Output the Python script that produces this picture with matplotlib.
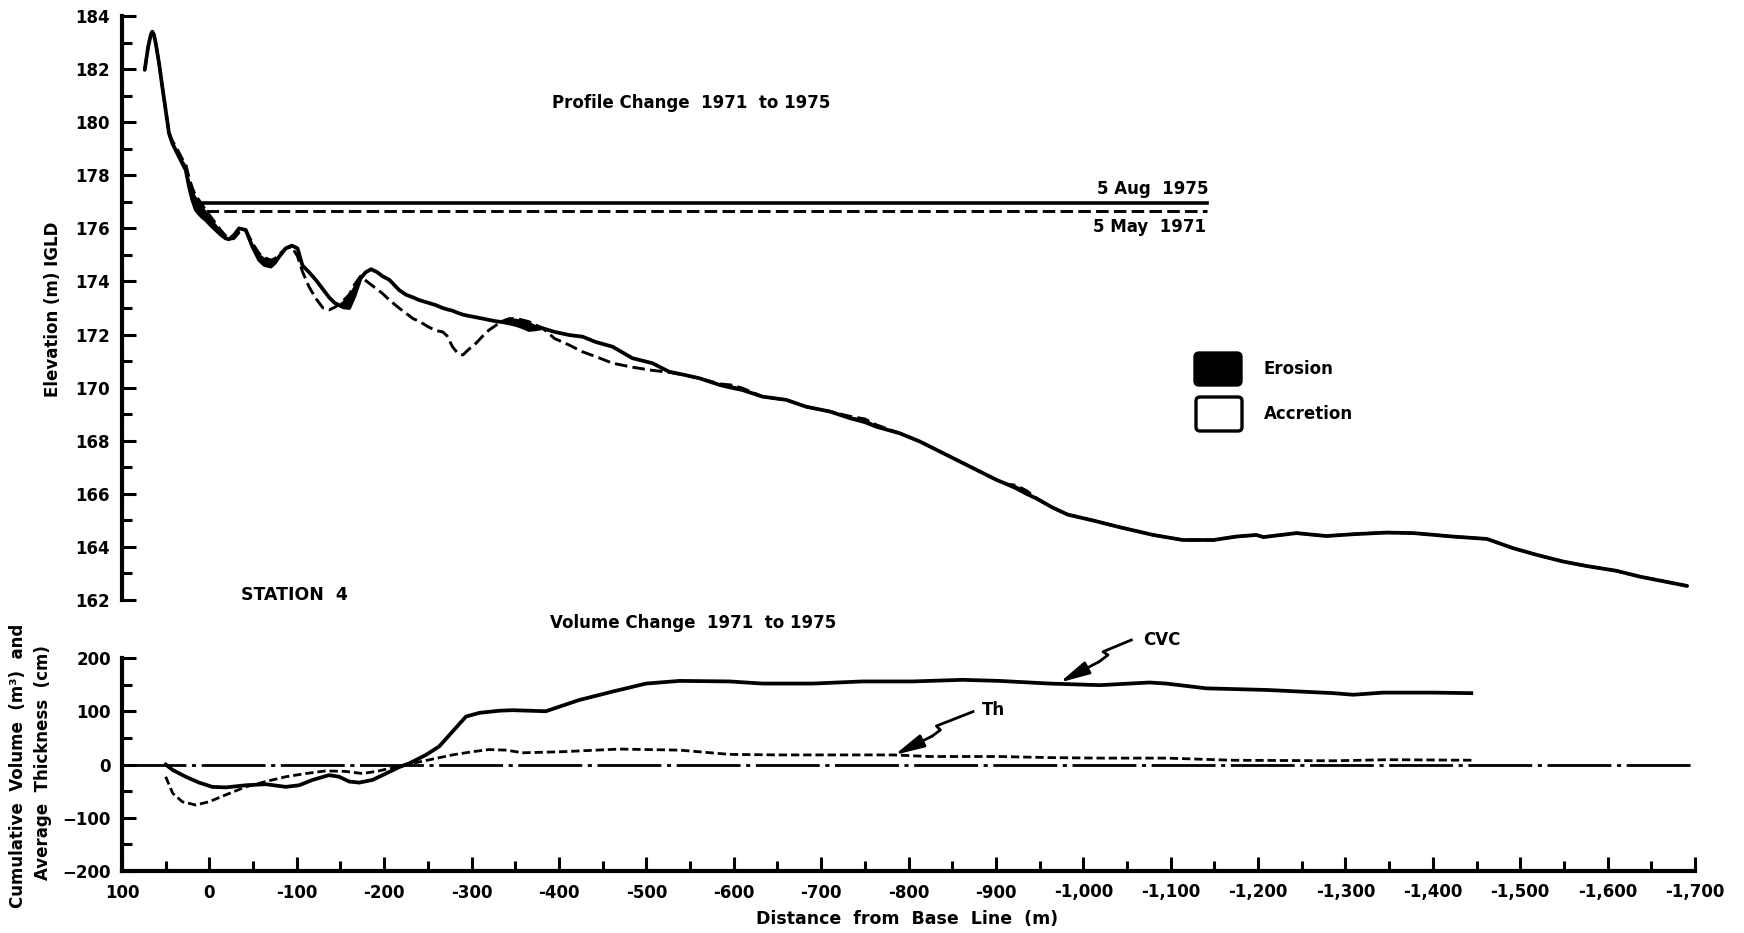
import matplotlib
matplotlib.use("Agg")
import matplotlib.pyplot as plt
from matplotlib.patches import FancyBboxPatch
from matplotlib.ticker import FuncFormatter

W, H = 1744, 933

plt.rcParams['font.family'] = ['DejaVu Sans']
plt.rcParams['font.weight'] = 'bold'

# beach profile, station 4 -- distance from base line (m), elevation (m IGLD)
distance = [74.0, 70.0, 67.0, 65.3, 63.5, 61.4, 57.6, 53.9, 50.0, 46.2,
            42.4, 36.8, 31.1, 27.1, 23.3, 19.5, 15.6, 11.8, 8.0, 4.2,
            -1.5, -7.3, -13.0, -18.7, -22.5, -28.2, -34.0, -41.6, -49.2, -56.9,
            -63.0, -70.3, -75.0, -79.8, -87.5, -94.3, -100.8, -106.5, -114.0, -122.0,
            -130.0, -137.0, -143.0, -148.5, -154.0, -160.0, -166.0, -173.0, -179.0, -185.0,
            -192.0, -198.0, -206.0, -217.0, -225.0, -233.0, -240.0, -250.0, -259.0, -267.0,
            -272.0, -278.0, -284.0, -290.0, -297.0, -305.0, -313.0, -320.0, -328.0, -335.0,
            -343.0, -351.0, -358.0, -366.0, -374.0, -381.0, -395.0, -412.0, -427.0, -442.0,
            -461.5, -484.0, -507.0, -526.0, -545.0, -561.0, -584.0, -597.0, -610.0, -633.0,
            -660.0, -683.0, -710.0, -733.0, -750.0, -763.0, -790.0, -813.0, -836.0, -859.0,
            -878.0, -901.0, -912.0, -923.0, -935.0, -946.0, -965.0, -982.0, -1013.0, -1042.0,
            -1080.0, -1114.0, -1149.0, -1175.0, -1198.0, -1206.0, -1244.0, -1278.0, -1310.0, -1347.0,
            -1378.0, -1423.0, -1462.0, -1492.0, -1519.0, -1549.0, -1576.0, -1610.0, -1637.0, -1665.0,
            -1691.0]

elev_1975 = [181.97, 182.85, 183.30, 183.41, 183.30, 182.97, 182.22, 181.34, 180.46, 179.58,
             179.20, 178.83, 178.45, 178.20, 177.57, 177.07, 176.70, 176.55, 176.42, 176.32,
             176.12, 175.94, 175.76, 175.62, 175.59, 175.75, 176.00, 175.94, 175.31, 174.81,
             174.62, 174.56, 174.70, 174.93, 175.25, 175.35, 175.25, 174.60, 174.35, 174.05,
             173.70, 173.40, 173.20, 173.10, 173.02, 173.00, 173.45, 174.12, 174.35, 174.46,
             174.35, 174.20, 174.06, 173.68, 173.50, 173.40, 173.30, 173.20, 173.11, 173.00,
             172.95, 172.90, 172.82, 172.75, 172.70, 172.65, 172.60, 172.55, 172.50, 172.47,
             172.42, 172.36, 172.28, 172.17, 172.20, 172.24, 172.10, 171.98, 171.92, 171.72,
             171.54, 171.11, 170.92, 170.60, 170.47, 170.35, 170.10, 170.00, 169.91, 169.66,
             169.54, 169.28, 169.10, 168.85, 168.70, 168.53, 168.28, 167.97, 167.59, 167.21,
             166.90, 166.52, 166.37, 166.21, 166.00, 165.83, 165.48, 165.22, 164.98, 164.74,
             164.45, 164.26, 164.26, 164.39, 164.45, 164.37, 164.52, 164.41, 164.48, 164.54,
             164.52, 164.39, 164.30, 163.95, 163.70, 163.45, 163.28, 163.10, 162.88, 162.70,
             162.53]

elev_1971 = [181.97, 182.85, 183.30, 183.41, 183.30, 182.97, 182.22, 181.34, 180.46, 179.62,
             179.30, 178.98, 178.62, 178.42, 177.92, 177.52, 177.22, 177.06, 176.88, 176.68,
             176.44, 176.18, 175.93, 175.72, 175.59, 175.62, 175.85, 175.94, 175.45, 175.05,
             174.90, 174.80, 174.86, 175.02, 175.25, 175.30, 174.95, 174.37, 173.80, 173.35,
             173.00, 172.93, 173.02, 173.14, 173.30, 173.50, 173.88, 174.20, 174.03, 173.88,
             173.70, 173.55, 173.30, 173.00, 172.80, 172.60, 172.50, 172.30, 172.15, 172.10,
             171.95, 171.55, 171.30, 171.23, 171.45, 171.67, 171.95, 172.17, 172.35, 172.50,
             172.60, 172.60, 172.55, 172.48, 172.35, 172.25, 171.85, 171.60, 171.35, 171.17,
             170.92, 170.77, 170.65, 170.58, 170.47, 170.35, 170.14, 170.10, 169.98, 169.66,
             169.54, 169.28, 169.10, 168.92, 168.82, 168.60, 168.28, 167.97, 167.59, 167.21,
             166.90, 166.52, 166.37, 166.32, 166.12, 165.85, 165.48, 165.22, 164.98, 164.74,
             164.45, 164.26, 164.26, 164.39, 164.45, 164.37, 164.52, 164.41, 164.48, 164.54,
             164.52, 164.39, 164.30, 163.95, 163.70, 163.45, 163.28, 163.10, 162.88, 162.70,
             162.53]

# lake levels on the survey dates
level_1975 = 176.95
level_1971 = 176.65
level_1975_span = (11.8, -1142.0)
level_1971_span = (3.8, -1142.0)

# cumulative volume change (m3) and average thickness (cm)
cvc_dist = [50, 42.3, 27.1, 11.8, -3.4, -18.7, -41.6, -64.5, -87.4, -102.7,
            -118, -137, -148.5, -160, -171.4, -186.6, -202, -217, -228.6, -247.8,
            -263, -278.3, -293.6, -309, -331.7, -347, -385, -423, -461.5, -499.7,
            -538, -595, -633, -690.5, -747.7, -805, -862, -904, -961.5, -1019,
            -1076, -1095, -1141, -1210, -1286, -1309, -1343, -1400, -1444]
cvc = [0, -10, -23, -34, -42, -43, -39, -37, -42, -39,
       -29, -20, -23, -32, -34, -29, -17, -5, 2, 18,
       34, 62, 90, 97, 101, 102, 100, 121, 137, 152,
       157, 156, 152, 152, 156, 156, 159, 157, 152, 149,
       154, 152, 143, 140, 134, 131, 135, 135, 134]

th_dist = [50, 42, 31, 15.7, 0.4, -18.7, -41.6, -64.5, -87.4, -110,
           -133, -156, -175, -194, -217, -232, -255, -278, -301, -320,
           -340, -358, -404, -469, -538, -595, -652, -729, -782, -824,
           -904, -960, -1019, -1095, -1171, -1286, -1350, -1445]
th = [-23, -54, -70, -76, -70, -57, -42, -32, -23, -17,
      -12, -13, -17, -12, -3, 2, 10, 18, 24, 28,
      27, 22, 24, 29, 27, 19, 18, 18, 18, 15,
      15, 13, 12, 12, 8, 7, 9, 8]

x_ticks = list(range(100, -1701, -100))

DASH_1971 = (0, (4.3, 1.8))


def fx(px):
    return px / W


def fy(py):
    return 1 - py / H


fig = plt.figure(figsize=(W / 100, H / 100), dpi=100)
fig.patch.set_facecolor('white')

ax_top = fig.add_axes([fx(122), fy(600), fx(1695) - fx(122), fy(16) - fy(600)])
ax_bot = fig.add_axes([fx(122), fy(871), fx(1695) - fx(122), fy(658) - fy(871)])

for ax in (ax_top, ax_bot):
    ax.set_xlim(100, -1700)
    ax.spines['top'].set_visible(False)
    ax.spines['right'].set_visible(False)
    for s in ax.spines.values():
        s.set_linewidth(3.0)
        s.set_capstyle('projecting')
    ax.tick_params(which='both', direction='in', width=2.2, labelsize=12, colors='black')
    ax.tick_params(which='major', length=10)
    ax.tick_params(which='minor', length=7)

# ---- profile panel ----
ax_top.spines['bottom'].set_visible(False)
ax_top.tick_params(axis='x', which='both', bottom=False, labelbottom=False)
ax_top.set_ylim(162, 184)
ax_top.set_yticks(range(162, 185, 2))
ax_top.set_yticks(range(163, 184, 2), minor=True)
ax_top.tick_params(axis='y', pad=9)

ax_top.plot(distance, elev_1971, color='black', lw=2.1, ls=DASH_1971)
ax_top.plot(distance, elev_1975, color='black', lw=2.7, solid_capstyle='round',
            solid_joinstyle='round')
ax_top.fill_between(distance, elev_1975, elev_1971,
                    where=[a > b for a, b in zip(elev_1971, elev_1975)],
                    interpolate=True, color='black', lw=0)

ax_top.plot(level_1975_span, [level_1975, level_1975], color='black', lw=2.6)
ax_top.plot(level_1971_span, [level_1971, level_1971], color='black', lw=2.1, ls=DASH_1971)
ax_top.text(-1143, 177.48, '5 Aug  1975', ha='right', va='center', fontsize=12)
ax_top.text(-1141, 176.05, '5 May  1971', ha='right', va='center', fontsize=12)

# ---- volume panel ----
ax_bot.set_ylim(-200, 200)
ax_bot.set_yticks([-200, -100, 0, 100, 200])
ax_bot.set_yticks([-150, -50, 50, 150], minor=True)
ax_bot.set_xticks(x_ticks)
ax_bot.set_xticks([t - 50 for t in x_ticks[:-1]], minor=True)
ax_bot.xaxis.set_major_formatter(FuncFormatter(lambda v, p: f"{int(v):,}"))
ax_bot.tick_params(axis='y', pad=8)
ax_bot.tick_params(axis='x', pad=9)

ax_bot.axhline(0, color='black', lw=2.0, ls=(0, (23, 2, 1.5, 2)))
ax_bot.plot(cvc_dist, cvc, color='black', lw=2.7, solid_joinstyle='round')
ax_bot.plot(th_dist, th, color='black', lw=2.0, ls=(0, (3, 1.4)))

# lightning-bolt pointers
bolt = dict(color='black', lw=2.0, clip_on=False, solid_joinstyle='round')
head = dict(arrowstyle='-|>,head_length=0.75,head_width=0.17', color='black', lw=2.0,
            mutation_scale=24, shrinkA=0, shrinkB=0)
ax_bot.plot([-1055, -1022.6, -1028.3, -1018], [233.8, 211.8, 205.6, 193], **bolt)
ax_bot.annotate('', xy=(-973, 154), xytext=(-1018, 193), annotation_clip=False, arrowprops=head)
ax_bot.text(-1068, 234, 'CVC', ha='left', va='center', fontsize=12, clip_on=False)

ax_bot.plot([-873.8, -831.9, -836.5, -827.3], [99.2, 72.3, 64.8, 53.5], **bolt)
ax_bot.annotate('', xy=(-784, 18), xytext=(-827.3, 53.5), annotation_clip=False, arrowprops=head)
ax_bot.text(-884, 102, 'Th', ha='left', va='center', fontsize=12)

# ---- labels ----
fig.text(fx(691), fy(103), 'Profile Change  1971  to 1975', ha='center', va='center', fontsize=12)
fig.text(fx(294), fy(595), 'STATION  4', ha='center', va='center', fontsize=12.5)
fig.text(fx(693), fy(623), 'Volume Change  1971  to 1975', ha='center', va='center', fontsize=12)
fig.text(fx(53), fy(309), 'Elevation (m) IGLD', rotation=90, ha='center', va='center', fontsize=12)
fig.text(fx(18), fy(766), 'Cumulative  Volume  (m³)  and', rotation=90,
         ha='center', va='center', fontsize=12)
fig.text(fx(43), fy(763), 'Average  Thickness  (cm)', rotation=90,
         ha='center', va='center', fontsize=12)
fig.text(fx(907), fy(919), 'Distance  from  Base  Line  (m)', ha='center', va='center', fontsize=12.5)

# erosion / accretion key
key = [(1195, 353, 385, 'black', 'Erosion'), (1196, 397, 431, 'white', 'Accretion')]
for left, top, bottom, face, label in key:
    pad = 0.04
    box = FancyBboxPatch((left / 100 + pad, (H - bottom) / 100 + pad),
                         0.46 - 2 * pad, (bottom - top) / 100 - 2 * pad,
                         boxstyle=f'round,pad={pad}', transform=fig.dpi_scale_trans,
                         facecolor=face, edgecolor='black', lw=2.4)
    fig.add_artist(box)
    fig.text(fx(left + 68), fy((top + bottom) / 2), label, ha='left', va='center', fontsize=12)

fig.savefig('out.png', dpi=100, facecolor='white')
